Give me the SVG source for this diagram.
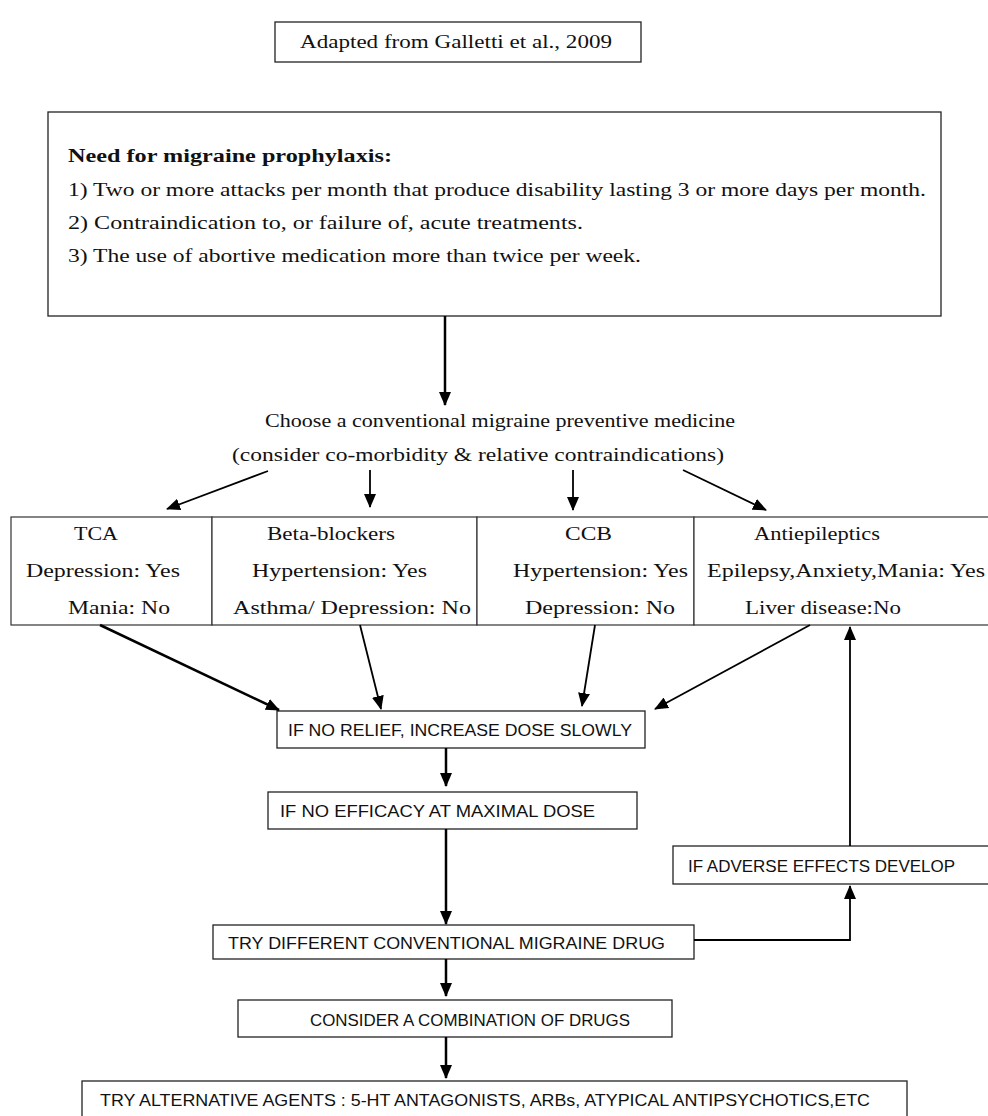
<svg xmlns="http://www.w3.org/2000/svg" width="988" height="1116" viewBox="0 0 988 1116">
<style>
  .box{fill:#fff;stroke:#222;stroke-width:1.3}
  .cell{fill:#fff;stroke:#333;stroke-width:1.2}
  .serif{font-family:"Liberation Serif","Times New Roman",serif;font-size:18px;fill:#111}
  .bold{font-weight:bold}
  .sans{font-family:"Liberation Sans",Arial,sans-serif;font-size:17px;fill:#111}
  .conn{stroke:#000;stroke-width:2.5;fill:none}
  .thin{stroke:#000;stroke-width:1.8;fill:none}
</style>
<defs>
  <marker id="ah" markerUnits="userSpaceOnUse" markerWidth="14" markerHeight="12" refX="13" refY="6" orient="auto">
    <path d="M0,0 L14,6 L0,12 Z" fill="#000"/>
  </marker>
</defs>
<rect width="988" height="1116" fill="#fff"/>

<g id="source">
  <rect class="box" x="275" y="22" width="366" height="40"/>
  <text class="serif" x="300" y="48" textLength="312" lengthAdjust="spacingAndGlyphs">Adapted from Galletti et al., 2009</text>
</g>

<g id="need">
  <rect class="box" x="48" y="112" width="893" height="204"/>
  <text class="serif bold" x="68" y="162" textLength="324" lengthAdjust="spacingAndGlyphs">Need for migraine prophylaxis:</text>
  <text class="serif" x="68" y="196" textLength="858" lengthAdjust="spacingAndGlyphs">1) Two or more attacks per month that produce disability lasting 3 or more days per month.</text>
  <text class="serif" x="68" y="229" textLength="515" lengthAdjust="spacingAndGlyphs">2) Contraindication to, or failure of, acute treatments.</text>
  <text class="serif" x="68" y="262" textLength="573" lengthAdjust="spacingAndGlyphs">3) The use of abortive medication more than twice per week.</text>
</g>

<g id="choose">
  <text class="serif" x="265" y="427" textLength="470" lengthAdjust="spacingAndGlyphs">Choose a conventional migraine preventive medicine</text>
  <text class="serif" x="232" y="461" textLength="492" lengthAdjust="spacingAndGlyphs">(consider co-morbidity &amp; relative contraindications)</text>
</g>

<g id="tca">
  <rect class="cell" x="11" y="517" width="201" height="108"/>
  <text class="serif" x="74" y="540" textLength="44" lengthAdjust="spacingAndGlyphs">TCA</text>
  <text class="serif" x="26" y="577" textLength="154" lengthAdjust="spacingAndGlyphs">Depression: Yes</text>
  <text class="serif" x="68" y="614" textLength="102" lengthAdjust="spacingAndGlyphs">Mania: No</text>
</g>
<g id="beta">
  <rect class="cell" x="212" y="517" width="265" height="108"/>
  <text class="serif" x="267" y="540" textLength="128" lengthAdjust="spacingAndGlyphs">Beta-blockers</text>
  <text class="serif" x="252" y="577" textLength="175" lengthAdjust="spacingAndGlyphs">Hypertension: Yes</text>
  <text class="serif" x="233" y="614" textLength="238" lengthAdjust="spacingAndGlyphs">Asthma/ Depression: No</text>
</g>
<g id="ccb">
  <rect class="cell" x="477" y="517" width="217" height="108"/>
  <text class="serif" x="565" y="540" textLength="47" lengthAdjust="spacingAndGlyphs">CCB</text>
  <text class="serif" x="513" y="577" textLength="175" lengthAdjust="spacingAndGlyphs">Hypertension: Yes</text>
  <text class="serif" x="525" y="614" textLength="150" lengthAdjust="spacingAndGlyphs">Depression: No</text>
</g>
<g id="anti">
  <rect class="cell" x="694" y="517" width="310" height="108"/>
  <text class="serif" x="754" y="540" textLength="126" lengthAdjust="spacingAndGlyphs">Antiepileptics</text>
  <text class="serif" x="707" y="577" textLength="278" lengthAdjust="spacingAndGlyphs">Epilepsy,Anxiety,Mania: Yes</text>
  <text class="serif" x="745" y="614" textLength="156" lengthAdjust="spacingAndGlyphs">Liver disease:No</text>
</g>

<g id="relief">
  <rect class="box" x="277" y="711" width="368" height="37"/>
  <text class="sans" x="288" y="736" textLength="344" lengthAdjust="spacingAndGlyphs">IF NO RELIEF, INCREASE DOSE SLOWLY</text>
</g>
<g id="efficacy">
  <rect class="box" x="268" y="792" width="369" height="37"/>
  <text class="sans" x="280" y="817" textLength="315" lengthAdjust="spacingAndGlyphs">IF NO EFFICACY AT MAXIMAL DOSE</text>
</g>
<g id="adverse">
  <rect class="box" x="673" y="846" width="330" height="38"/>
  <text class="sans" x="688" y="872" textLength="267" lengthAdjust="spacingAndGlyphs">IF ADVERSE EFFECTS DEVELOP</text>
</g>
<g id="different">
  <rect class="box" x="213" y="925" width="481" height="34"/>
  <text class="sans" x="228" y="949" textLength="437" lengthAdjust="spacingAndGlyphs">TRY DIFFERENT CONVENTIONAL MIGRAINE DRUG</text>
</g>
<g id="combination">
  <rect class="box" x="238" y="1000" width="434" height="37"/>
  <text class="sans" x="310" y="1026" textLength="320" lengthAdjust="spacingAndGlyphs">CONSIDER A COMBINATION OF DRUGS</text>
</g>
<g id="alternative">
  <rect class="box" x="82" y="1081" width="825" height="50"/>
  <text class="sans" x="100" y="1106" textLength="770" lengthAdjust="spacingAndGlyphs">TRY ALTERNATIVE AGENTS : 5-HT ANTAGONISTS, ARBs, ATYPICAL ANTIPSYCHOTICS,ETC</text>
</g>

<g id="connectors">
  <line class="conn" x1="445" y1="316" x2="445" y2="405" marker-end="url(#ah)"/>
  <line class="thin" x1="268" y1="471" x2="167" y2="509" marker-end="url(#ah)"/>
  <line class="thin" x1="370" y1="470" x2="370" y2="507" marker-end="url(#ah)"/>
  <line class="thin" x1="573" y1="470" x2="573" y2="510" marker-end="url(#ah)"/>
  <line class="thin" x1="683" y1="470" x2="766" y2="510" marker-end="url(#ah)"/>
  <line class="conn" x1="100" y1="625" x2="279" y2="710" marker-end="url(#ah)"/>
  <line class="thin" x1="360" y1="625" x2="381" y2="709" marker-end="url(#ah)"/>
  <line class="thin" x1="595" y1="625" x2="582" y2="706" marker-end="url(#ah)"/>
  <line class="thin" x1="810" y1="625" x2="655" y2="709" marker-end="url(#ah)"/>
  <line class="thin" x1="850" y1="846" x2="850" y2="627" marker-end="url(#ah)"/>
  <line class="conn" x1="446" y1="748" x2="446" y2="786" marker-end="url(#ah)"/>
  <line class="conn" x1="446" y1="829" x2="446" y2="924" marker-end="url(#ah)"/>
  <polyline class="thin" points="694,940 850,940 850,886" marker-end="url(#ah)"/>
  <line class="conn" x1="446" y1="959" x2="446" y2="996" marker-end="url(#ah)"/>
  <line class="conn" x1="446" y1="1037" x2="446" y2="1078" marker-end="url(#ah)"/>
</g>
</svg>
